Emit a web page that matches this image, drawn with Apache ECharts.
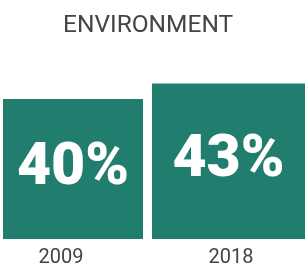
<!DOCTYPE html>
<html>
<head>
<meta charset="utf-8">
<script src="https://cdn.jsdelivr.net/npm/echarts@6/dist/echarts.min.js"></script>
<style>
  html, body { margin: 0; padding: 0; background: #fff; }
  #chart { width: 306px; height: 271px; }
</style>
</head>
<body>
<div id="chart"></div>
<script>
const years = ['2009', '2018'];
const shares = [40, 43];

const barColor = '#217e6e';
const chart = echarts.init(document.getElementById('chart'));

// 每根柱子单独一个 grid，宽度不同
const grids = [
  { left: 3, width: 140, top: 73, bottom: 32 },
  { left: 152, width: 153, top: 73, bottom: 32 }
];
const labelPad = [[0, 24, 0, 0], [0, 0, 0, 5]];

const option = {
  animation: false,
  title: {
    text: 'ENVIRONMENT',
    left: 58,
    top: 8,
    textStyle: {
      fontFamily: 'Roboto',
      fontWeight: 'normal',
      fontSize: 24.5,
      color: '#444'
    }
  },
  grid: grids,
  xAxis: years.map((y, i) => ({
    type: 'category',
    gridIndex: i,
    data: [y],
    axisLine: { show: false },
    axisTick: { show: false },
    axisLabel: {
      margin: 9,
      fontFamily: 'Roboto',
      fontSize: 20,
      color: '#444',
      padding: labelPad[i]
    }
  })),
  yAxis: years.map((y, i) => ({
    type: 'value',
    gridIndex: i,
    min: 13,
    max: 45,
    show: false,
    splitLine: { show: false }
  })),
  series: shares.map((v, i) => ({
    type: 'bar',
    xAxisIndex: i,
    yAxisIndex: i,
    barWidth: '100%',
    data: [v],
    itemStyle: { color: barColor },
    label: {
      show: true,
      position: 'inside',
      formatter: '{c}%',
      fontFamily: 'Roboto',
      fontWeight: 900,
      fontSize: 59,
      color: '#fff'
    }
  }))
};
chart.setOption(option);
</script>
</body>
</html>
